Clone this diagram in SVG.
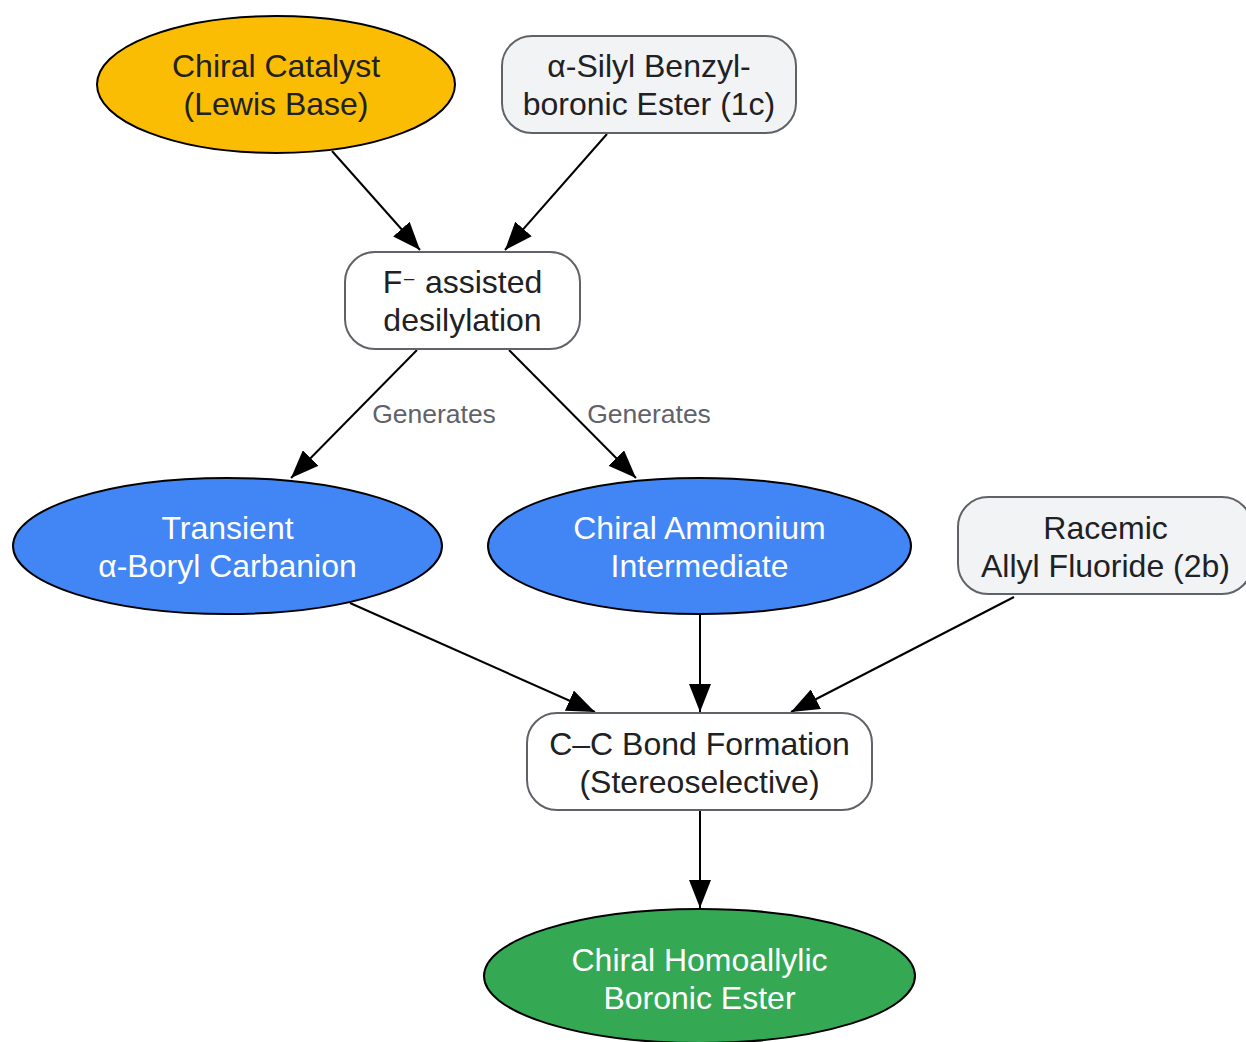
<svg xmlns="http://www.w3.org/2000/svg" width="1246" height="1042" viewBox="0 0 1246 1042">
<defs>
<marker id="arr" viewBox="0 0 28 22" refX="28" refY="11" markerWidth="28" markerHeight="22" markerUnits="userSpaceOnUse" orient="auto">
<path d="M0,0 L28,11 L0,22 z" fill="#000"/>
</marker>
<style>
.t{font-family:"Liberation Sans",Arial,sans-serif;font-size:32px;text-anchor:middle;fill:#202124}
.w{fill:#ffffff}
.lbl{font-family:"Liberation Sans",Arial,sans-serif;font-size:26.5px;text-anchor:middle;fill:#5f6368}
.ell{stroke:#000;stroke-width:2}
.box{stroke:#5f6368;stroke-width:2}
.e{stroke:#000;stroke-width:2;fill:none;marker-end:url(#arr)}
</style>
</defs>
<rect width="1246" height="1042" fill="#fff"/>
<g id="edges">
<line class="e" x1="332" y1="151" x2="420" y2="250"/>
<line class="e" x1="607" y1="134" x2="505" y2="250"/>
<line class="e" x1="417" y1="350" x2="291" y2="478"/>
<line class="e" x1="509" y1="350" x2="636" y2="478"/>
<line class="e" x1="350" y1="603" x2="595" y2="712"/>
<line class="e" x1="700" y1="615" x2="700" y2="712"/>
<line class="e" x1="1014" y1="597" x2="791" y2="712"/>
<line class="e" x1="700" y1="811" x2="700" y2="908"/>
<text class="lbl" x="434" y="423">Generates</text>
<text class="lbl" x="649" y="423">Generates</text>
</g>
<g id="catalyst">
<ellipse class="ell" cx="276" cy="84.5" rx="179" ry="68.5" fill="#fbbc04"/>
<text class="t" x="276" y="77">Chiral Catalyst</text>
<text class="t" x="276" y="115">(Lewis Base)</text>
</g>
<g id="silyl">
<rect class="box" x="502" y="36" width="294" height="97" rx="30" fill="#f1f3f4"/>
<text class="t" x="649" y="77">α-Silyl Benzyl-</text>
<text class="t" x="649" y="115">boronic Ester (1c)</text>
</g>
<g id="desilylation">
<rect class="box" x="345" y="252" width="235" height="97" rx="30" fill="#fff"/>
<text class="t" x="462.5" y="293">F<tspan font-family="'DejaVu Sans',sans-serif" font-size="26">⁻</tspan> assisted</text>
<text class="t" x="462.5" y="331">desilylation</text>
</g>
<g id="carbanion">
<ellipse class="ell" cx="227.5" cy="546" rx="214.5" ry="68" fill="#4285f4"/>
<text class="t w" x="227.5" y="539">Transient</text>
<text class="t w" x="227.5" y="577">α-Boryl Carbanion</text>
</g>
<g id="ammonium">
<ellipse class="ell" cx="699.5" cy="546" rx="211.5" ry="68" fill="#4285f4"/>
<text class="t w" x="699.5" y="539">Chiral Ammonium</text>
<text class="t w" x="699.5" y="577">Intermediate</text>
</g>
<g id="fluoride">
<rect class="box" x="958" y="497" width="294" height="97" rx="30" fill="#f1f3f4"/>
<text class="t" x="1105.5" y="539">Racemic</text>
<text class="t" x="1105.5" y="577">Allyl Fluoride (2b)</text>
</g>
<g id="bond">
<rect class="box" x="527" y="713" width="345" height="97" rx="30" fill="#fff"/>
<text class="t" x="699.5" y="755">C–C Bond Formation</text>
<text class="t" x="699.5" y="793">(Stereoselective)</text>
</g>
<g id="product">
<ellipse class="ell" cx="699.5" cy="976" rx="215.5" ry="67" fill="#34a853"/>
<text class="t w" x="699.5" y="971">Chiral Homoallylic</text>
<text class="t w" x="699.5" y="1009">Boronic Ester</text>
</g>
</svg>
